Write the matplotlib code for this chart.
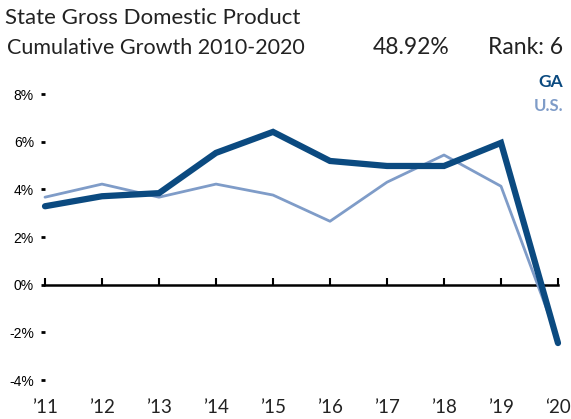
import matplotlib
matplotlib.use("Agg")
import matplotlib.pyplot as plt
from matplotlib.transforms import blended_transform_factory

years = ["\u201911", "\u201912", "\u201913", "\u201914", "\u201915",
         "\u201916", "\u201917", "\u201918", "\u201919", "\u201820"]
ga = [3.29, 3.71, 3.84, 5.53, 6.41, 5.19, 4.98, 4.98, 5.95, -2.45]
us = [3.67, 4.22, 3.67, 4.22, 3.76, 2.66, 4.30, 5.44, 4.13, -2.30]
yticks = [-4, -2, 0, 2, 4, 6, 8]

GA_COLOR = "#0b4a80"
US_COLOR = "#7f9cc8"
TXT = "#222222"

fig = plt.figure(figsize=(5.71, 4.19), dpi=100)
ax = fig.add_axes([45 / 571, 39 / 419, 513 / 571, 286 / 419])

x = list(range(len(years)))
ax.plot(x, us, color=US_COLOR, lw=2, clip_on=False, solid_capstyle="round", zorder=3)
ax.plot(x, ga, color=GA_COLOR, lw=4.5, clip_on=False, solid_capstyle="round",
        solid_joinstyle="miter", zorder=4)

ax.set_xlim(0, len(years) - 1)
ax.set_ylim(-4, 8)

for side in ["top", "right", "left"]:
    ax.spines[side].set_visible(False)
ax.spines["bottom"].set_position(("data", 0))
ax.spines["bottom"].set_linewidth(1.8)
ax.spines["bottom"].set_zorder(2)
ax.set_xticks(x)
ax.tick_params(axis="x", direction="in", length=5, width=1.5, labelbottom=False)

ax.set_yticks(yticks)
ax.set_yticklabels([f"{v}%" for v in yticks], family="Liberation Sans", fontsize=10)
ax.tick_params(axis="y", direction="out", length=3, width=2, pad=5)

# year labels sit along the bottom of the figure, not on the zero line
trans = blended_transform_factory(ax.transData, fig.transFigure)
for i, lab in enumerate(years):
    ax.text(i, 1 - 407 / 419, lab, transform=trans, ha="center", va="center",
            family="Lato", fontsize=13.5, color=TXT)

fig.text(5 / 571, 1 - 18 / 419, "State Gross Domestic Product", family="Lato",
         fontsize=16, va="center", color=TXT)
fig.text(7 / 571, 1 - 48 / 419, "Cumulative Growth 2010-2020", family="Lato",
         fontsize=15.5, va="center", color=TXT)
fig.text(449 / 571, 1 - 48 / 419, "48.92%", family="Lato", fontsize=16.5,
         va="center", ha="right", color=TXT)
fig.text(563 / 571, 1 - 48 / 419, "Rank: 6", family="Lato", fontsize=16.5,
         va="center", ha="right", color=TXT)
fig.text(563 / 571, 1 - 82 / 419, "GA", family="Lato", fontsize=12.5, weight="bold",
         va="center", ha="right", color=GA_COLOR)
fig.text(563 / 571, 1 - 106 / 419, "U.S.", family="Lato", fontsize=12, weight="bold",
         va="center", ha="right", color=US_COLOR)

fig.savefig("out.png", dpi=100)
